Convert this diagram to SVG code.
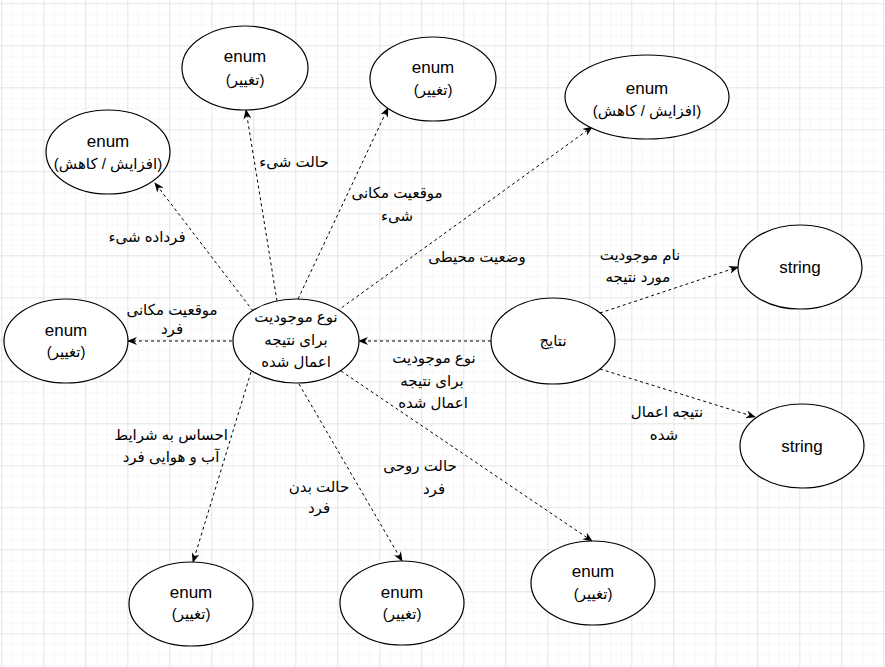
<svg xmlns="http://www.w3.org/2000/svg" width="885" height="667" viewBox="0 0 885 667">
<style>
.node ellipse{fill:#fff;stroke:#000;stroke-width:1.2}
.t{font-family:"Liberation Sans","DejaVu Sans",Arial,sans-serif;fill:#000;text-anchor:middle}
.en{font-size:17px}
.ar{font-size:15px}
.edges line{stroke:#000;stroke-width:1;stroke-dasharray:3 3;fill:none;marker-end:url(#arr)}
</style>
<defs>
<pattern id="minor" patternUnits="userSpaceOnUse" x="1.3" y="3.3" width="10.5" height="10.5">
<path d="M0,0 H10.5 M0,0 V10.5" stroke="#efefef" stroke-width="1" fill="none"/>
</pattern>
<pattern id="major" patternUnits="userSpaceOnUse" x="1.3" y="3.3" width="42" height="42">
<path d="M0,0 H42 M0,0 V42" stroke="#d6d6d6" stroke-width="1" fill="none"/>
</pattern>
<marker id="arr" viewBox="0 0 10 8" refX="9" refY="4" markerWidth="10" markerHeight="8" markerUnits="userSpaceOnUse" orient="auto">
<path d="M0,0 L10,4 L0,8 L3,4 Z" fill="#000"/>
</marker>
</defs>
<rect width="885" height="667" fill="#fff"/>
<rect width="885" height="667" fill="url(#minor)"/>
<rect width="885" height="667" fill="url(#major)"/>

<g class="edges" id="connectors">
<line x1="277" y1="301" x2="246" y2="110"/>
<line x1="298" y1="299" x2="388" y2="108"/>
<line x1="337" y1="311" x2="592" y2="127"/>
<line x1="253" y1="311" x2="155" y2="183"/>
<line x1="232" y1="341" x2="128" y2="341"/>
<line x1="251" y1="372" x2="193" y2="562"/>
<line x1="299" y1="384" x2="402" y2="561"/>
<line x1="341" y1="371" x2="592" y2="541"/>
<line x1="491" y1="341" x2="359" y2="341"/>
<line x1="600" y1="313" x2="738" y2="267"/>
<line x1="600" y1="369" x2="755" y2="417"/>
</g>

<g id="edge-labels">
<text class="t ar" x="294" y="167">حالت شیء</text>
<text class="t ar" x="397" y="198">موقعیت مکانی</text>
<text class="t ar" x="397" y="221">شیء</text>
<text class="t ar" x="477" y="262">وضعیت محیطی</text>
<text class="t ar" x="147" y="242">فرداده شیء</text>
<text class="t ar" x="172" y="315">موقعیت مکانی</text>
<text class="t ar" x="172" y="334">فرد</text>
<text class="t ar" x="434" y="363">نوع موجودیت</text>
<text class="t ar" x="432" y="386">برای نتیجه</text>
<text class="t ar" x="433" y="408">اعمال شده</text>
<text class="t ar" x="640" y="260">نام موجودیت</text>
<text class="t ar" x="638" y="282">مورد نتیجه</text>
<text class="t ar" x="667" y="417">نتیجه اعمال</text>
<text class="t ar" x="664" y="440">شده</text>
<text class="t ar" x="171" y="440">احساس به شرایط</text>
<text class="t ar" x="171" y="462">آب و هوایی فرد</text>
<text class="t ar" x="319" y="492">حالت بدن</text>
<text class="t ar" x="319" y="513">فرد</text>
<text class="t ar" x="420" y="471">حالت روحی</text>
<text class="t ar" x="434" y="494">فرد</text>
</g>

<g id="n-center" class="node">
<ellipse cx="296" cy="341" rx="63" ry="42"/>
<text class="t ar" x="296" y="322">نوع موجودیت</text>
<text class="t ar" x="296" y="345">برای نتیجه</text>
<text class="t ar" x="296" y="367">اعمال شده</text>
</g>
<g id="n-results" class="node">
<ellipse cx="553" cy="341" rx="62" ry="43"/>
<text class="t ar" x="553" y="346">نتایج</text>
</g>
<g id="n-e1" class="node">
<ellipse cx="245" cy="68" rx="63" ry="42"/>
<text class="t en" x="245" y="62">enum</text>
<text class="t ar" x="245" y="85">(تغییر)</text>
</g>
<g id="n-e2" class="node">
<ellipse cx="433" cy="79" rx="63" ry="42"/>
<text class="t en" x="433" y="73">enum</text>
<text class="t ar" x="433" y="95">(تغییر)</text>
</g>
<g id="n-e3" class="node">
<ellipse cx="647" cy="97" rx="82" ry="42"/>
<text class="t en" x="647" y="94">enum</text>
<text class="t ar" x="647" y="116">(افزایش / کاهش)</text>
</g>
<g id="n-e4" class="node">
<ellipse cx="108" cy="152" rx="62" ry="42"/>
<text class="t en" x="108" y="147">enum</text>
<text class="t ar" x="108" y="169">(افزایش / کاهش)</text>
</g>
<g id="n-s1" class="node">
<ellipse cx="800" cy="267" rx="62" ry="42"/>
<text class="t en" x="800" y="273">string</text>
</g>
<g id="n-e6" class="node">
<ellipse cx="66" cy="341" rx="62" ry="42"/>
<text class="t en" x="66" y="336">enum</text>
<text class="t ar" x="66" y="357">(تغییر)</text>
</g>
<g id="n-s2" class="node">
<ellipse cx="802" cy="446" rx="62" ry="42"/>
<text class="t en" x="802" y="452">string</text>
</g>
<g id="n-e10" class="node">
<ellipse cx="191" cy="604" rx="62" ry="42"/>
<text class="t en" x="191" y="598">enum</text>
<text class="t ar" x="191" y="619">(تغییر)</text>
</g>
<g id="n-e11" class="node">
<ellipse cx="402" cy="603" rx="62" ry="42"/>
<text class="t en" x="402" y="598">enum</text>
<text class="t ar" x="402" y="619">(تغییر)</text>
</g>
<g id="n-e12" class="node">
<ellipse cx="593" cy="583" rx="62" ry="42"/>
<text class="t en" x="593" y="577">enum</text>
<text class="t ar" x="593" y="599">(تغییر)</text>
</g>
</svg>
